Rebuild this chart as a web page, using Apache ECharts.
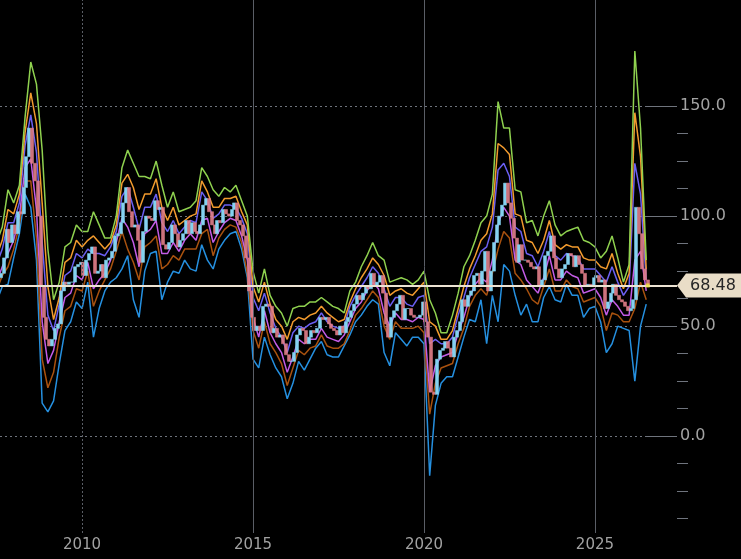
<!DOCTYPE html>
<html><head><meta charset="utf-8">
<script src="https://cdn.jsdelivr.net/npm/echarts@6/dist/echarts.min.js"></script>
<style>html,body{margin:0;padding:0;background:#000;}#c{width:741px;height:559px;}</style>
</head><body><div id="c"></div>
<script>
// ---- band lines: bimonthly samples starting Jul 2007 ----
const bandStart = 2007.5, bandStep = 1 / 6;
const green = [88,95,112,
 106,114,145,170,160,130, 85,62,70,86,88,96, 93,93,102,96,90,90, 100,122,130,124,118,118,
 117,125,114,104,111,102, 103,104,107,122,118,112, 109,113,111,114,107,100, 75,65,76,64,59,56,
 50,58,59,59,61,61, 63,61,59,58,56,66, 70,77,82,88,82,80, 70,71,72,71,69,71,
 75,62,56,47,47,55, 65,77,82,89,97,100, 110,152,140,140,112,111, 97,98,91,100,107,96,
 91,93,94,95,89,88, 86,81,84,91,81,70, 78,175,140,80];
const orange = [82,89,103,
 101,110,138,156,142,106, 68,53,63,79,81,89, 86,89,91,88,85,88, 96,115,119,113,103,110,
 110,117,104,98,104,96, 98,100,101,116,111,104, 104,108,108,109,102,96, 68,61,70,60,53,50,
 44,52,54,53,55,56, 59,56,54,52,53,61, 67,72,76,81,78,73, 64,66,67,65,64,67,
 70,52,50,44,44,48, 58,68,76,82,89,92, 101,133,131,128,101,100, 89,88,83,89,98,87,
 85,87,86,86,81,80, 80,77,76,83,74,67, 74,147,127,76];
const violet = [78,85,97,
 97,106,132,146,129,88, 55,48,60,73,75,83, 81,85,83,83,82,86, 93,109,113,104,94,104,
 104,110,97,93,98,92, 95,98,97,111,107,99, 101,105,105,104,99,92, 63,57,65,56,49,45,
 38,47,50,49,51,52, 56,52,50,49,50,59, 64,68,72,77,74,67, 59,63,63,60,59,63,
 64,42,44,42,42,45, 55,63,72,78,84,86, 95,121,124,118,95,93, 83,82,77,84,93,82,
 80,83,82,81,76,76, 76,73,70,77,70,64, 68,124,110,71];
const magenta = [70,77,83,
 89,100,122,126,103,52, 33,39,52,63,65,73, 71,79,67,71,74,80, 88,99,95,88,77,92,
 94,98,83,83,88,84, 89,92,89,98,99,88, 93,97,99,98,91,80, 54,45,57,47,42,38,
 29,36,44,42,44,44, 49,45,44,43,46,52, 58,61,66,70,67,56, 50,56,53,53,52,54,
 53,20,32,36,37,38, 47,54,63,69,72,70, 80,96,104,100,80,78, 71,68,65,72,82,71,
 71,75,73,72,65,66, 67,63,55,62,59,55, 55,80,84,66];
const brown = [66,73,77,
 85,96,116,116,90,35, 22,29,45,57,59,67, 66,75,59,66,71,76, 84,93,85,79,71,86,
 88,91,76,78,82,80, 85,85,85,92,94,82, 90,94,96,95,88,74, 48,40,52,42,38,33,
 23,31,39,37,40,41, 46,41,40,40,42,48, 55,58,62,66,63,50, 44,52,49,49,49,50,
 47,10,24,31,32,33, 42,49,59,64,67,64, 74,85,93,90,74,71, 67,62,60,68,76,66,
 66,71,68,67,61,62, 63,59,48,56,55,52, 52,58,70,62];
const blue = [61,68,69,
 81,92,110,104,80,15, 11,16,33,48,52,61, 58,70,45,58,66,70, 72,76,82,62,54,75,
 83,84,62,70,75,74, 80,76,75,87,80,76, 85,89,92,93,85,72, 35,31,45,37,31,27,
 17,24,34,30,35,40, 43,37,36,36,41,46, 52,55,59,62,60,38, 32,47,44,41,45,45,
 42,-18,14,24,27,27, 36,45,53,52,62,42, 64,52,78,75,64,55, 60,52,52,63,68,62,
 61,69,64,64,54,58, 59,52,38,42,50,49, 48,25,50,60];

// ---- monthly closes from Aug 2007 ----
const candleStart = 2007 + 7.5 / 12, candleStep = 1 / 12;
const firstOpen = 72;
const closes = [74,81,94,88,96,
 92,102,101,113,127,140,124,116,100,68,54,44,
 41,44,49,51,66,70,69,70,70,77,78,79,
 73,80,83,86,74,75,78,72,80,81,84,91,
 92,97,106,113,102,95,96,89,79,93,100,99,
 98,107,103,104,87,85,88,96,92,86,89,92,
 98,92,97,93,92,96,105,108,102,96,92,98,
 97,103,101,100,103,106,98,96,91,81,66,54,
 48,50,48,59,60,59,47,49,45,46,42,37,
 34,34,38,46,49,48,42,45,48,47,49,54,
 53,54,51,49,48,46,50,47,52,54,57,60,
 64,62,65,68,67,74,68,70,73,65,51,45,
 54,57,60,64,53,58,58,55,54,54,55,61,
 52,45,20,19,35,39,40,43,40,36,45,48,
 52,62,59,64,66,73,74,69,75,84,66,75,
 88,96,100,105,115,106,99,90,79,87,80,80,
 79,77,76,77,68,71,82,84,91,81,76,72,
 76,78,83,82,77,82,78,74,68,69,68,72,
 73,70,71,58,61,65,69,64,62,61,59,57,
 58,62,104,92,76,71,68.48];
const lastPrice = 68.48;

// ---- axes ----
const xTickLabels = [2010, 2015, 2020, 2025];
const yTickLabels = [0, 50, 100, 150];
const yMinorTicks = [-37.5,-25,-12.5,12.5,25,37.5,62.5,75,87.5,112.5,125,137.5];

function toXY(arr, start, step) { return arr.map((v, i) => [start + i * step, v]); }
const candleData = closes.map((c, i) => {
  const o = i === 0 ? firstOpen : closes[i - 1];
  return [candleStart + i * candleStep, o, c, Math.min(o, c), Math.max(o, c)];
});
const lastX = candleStart + (closes.length - 1) * candleStep;

const gridCol = '#6f747d';
const txtCol = '#a2a2a2';
const FONT = 'DejaVu Sans';

function band(name, arr, color) {
  return { type: 'line', name, data: toXY(arr, bandStart, bandStep), showSymbol: false, symbol: 'none',
    lineStyle: { color, width: 1.5 }, itemStyle: { color }, z: 2, silent: true };
}

const chart = echarts.init(document.getElementById('c'), null, { renderer: 'canvas' });
const option = {
  backgroundColor: '#000',
  animation: false,
  grid: { left: 0, right: 64, top: 0, bottom: 26 },
  xAxis: { type: 'value', min: 2007.6, max: 2027.4,
    axisLine: { show: false }, axisTick: { show: false }, splitLine: { show: false },
    axisLabel: { customValues: xTickLabels, formatter: v => String(v), color: txtCol, fontSize: 15, fontFamily: FONT, margin: 5 } },
  yAxis: [
    { type: 'value', position: 'right', min: -44, max: 198.2,
      axisLine: { show: false },
      axisTick: { show: true, inside: true, length: 30, customValues: yTickLabels, lineStyle: { color: gridCol } },
      axisLabel: { customValues: yTickLabels, formatter: v => v.toFixed(1), color: txtCol, fontSize: 16, fontFamily: FONT, margin: 3 },
      splitLine: { show: true, lineStyle: { color: gridCol, type: [2, 3], width: 1 } } },
    { type: 'value', position: 'right', min: -44, max: 198.2,
      axisLine: { show: false }, axisLabel: { show: false }, splitLine: { show: false },
      axisTick: { show: true, inside: false, length: 11, customValues: yMinorTicks, lineStyle: { color: gridCol } } }
  ],
  series: [
    { type: 'line', data: [[2007.6, null]], symbol: 'none', z: 1, silent: true,
      markLine: { silent: true, symbol: ['none', 'none'], label: { show: false },
        lineStyle: { color: '#5a5e66', width: 1, type: 'solid' },
        data: [ { xAxis: 2010, lineStyle: { type: [2, 2], color: '#5a5e66' } }, { xAxis: 2015 }, { xAxis: 2020 }, { xAxis: 2025 } ] } },
    band('blue', blue, '#2590e0'),
    band('brown', brown, '#a9520f'),
    band('magenta', magenta, '#c45ce6'),
    band('violet', violet, '#6b5ff2'),
    band('orange', orange, '#f29b2e'),
    band('green', green, '#8fd14f'),
    { type: 'candlestick', data: candleData, encode: { x: 0, y: [1, 2, 3, 4] }, barWidth: 3.5, z: 3, silent: true,
      itemStyle: { color: '#84d2f0', color0: 'rgba(226,128,138,0.9)', borderColor: '#84d2f0', borderColor0: '#e07d88', borderWidth: 0.5 } },
    { type: 'scatter', data: [[lastX, lastPrice]], symbol: 'rect', symbolSize: 4, itemStyle: { color: '#f2e23a' }, z: 6, silent: true,
      markLine: { silent: true, symbol: ['none', 'none'], label: { show: false },
        lineStyle: { color: '#ece3d3', width: 2, type: 'solid' }, data: [{ yAxis: lastPrice }] } }
  ]
};
chart.setOption(option);

const yPix = chart.convertToPixel({ yAxisIndex: 0 }, lastPrice);
const W = chart.getWidth();
const rx = W - option.grid.right;
chart.setOption({ graphic: [
  { type: 'polygon', z: 10, shape: { points: [[rx, yPix], [rx + 9, yPix - 12], [W, yPix - 12], [W, yPix + 12], [rx + 9, yPix + 12]] },
    style: { fill: '#e9ddc7' } },
  { type: 'text', z: 11, x: rx + 13, y: yPix, style: { text: lastPrice.toFixed(2), fill: '#262626', font: '16px "DejaVu Sans"', verticalAlign: 'middle' } }
] });
</script></body></html>
